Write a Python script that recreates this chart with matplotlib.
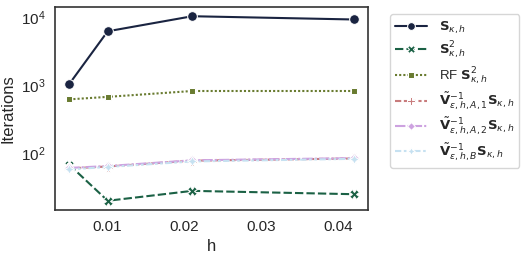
import numpy as np
import pandas as pd
import matplotlib
matplotlib.use("Agg")
import matplotlib.pyplot as plt
import seaborn as sns

# mesh sizes
h = [0.005, 0.01, 0.021, 0.042]

# iteration counts per method
it_S = [1050, 6300, 10500, 9400]
it_S2 = [68, 20, 28, 25]
it_RF = [625, 680, 830, 830]
it_A1 = [60, 64, 78, 84]
it_A2 = [61, 65, 79, 85]
it_B = [58, 63, 76, 83]

labels = [
    r"$\mathbf{S}_{\kappa,h}$",
    r"$\mathbf{S}^2_{\kappa,h}$",
    r"RF $\mathbf{S}^2_{\kappa,h}$",
    r"$\tilde{\mathbf{V}}^{-1}_{\varepsilon,h,A,1}\mathbf{S}_{\kappa,h}$",
    r"$\tilde{\mathbf{V}}^{-1}_{\varepsilon,h,A,2}\mathbf{S}_{\kappa,h}$",
    r"$\tilde{\mathbf{V}}^{-1}_{\varepsilon,h,B}\mathbf{S}_{\kappa,h}$",
]
series = [it_S, it_S2, it_RF, it_A1, it_A2, it_B]

rows = []
for lab, vals in zip(labels, series):
    for x, v in zip(h, vals):
        rows.append({"h": x, "Iterations": v, "method": lab})
df = pd.DataFrame(rows)

sns.set_style("white")
plt.rcParams["font.family"] = ["Liberation Sans", "DejaVu Sans"]

fig = plt.figure(figsize=(5.29, 2.56), dpi=100)
ax = fig.add_axes([55 / 529, 1 - 210 / 256, 313 / 529, 203 / 256])

sns.lineplot(data=df, x="h", y="Iterations", hue="method", style="method",
             markers=True, palette="cubehelix", markersize=7, ax=ax)
ax.set_yscale("log")
ax.set_xticks([0.01, 0.02, 0.03, 0.04])
ax.set_xticklabels(["0.01", "0.02", "0.03", "0.04"])
ax.tick_params(labelsize=11)
ax.set_xlabel("h", fontsize=12)
ax.set_ylabel("Iterations", fontsize=12)
for s in ax.spines.values():
    s.set_color("#333333")
    s.set_linewidth(1.2)

ax.legend(loc="upper left", bbox_to_anchor=(1.07, 0.966), borderaxespad=0,
          fontsize=9.5, handlelength=2.4, labelspacing=0.3, borderpad=0.4,
          handletextpad=0.9, markerscale=0.8)

fig.savefig("out.png", dpi=100)
